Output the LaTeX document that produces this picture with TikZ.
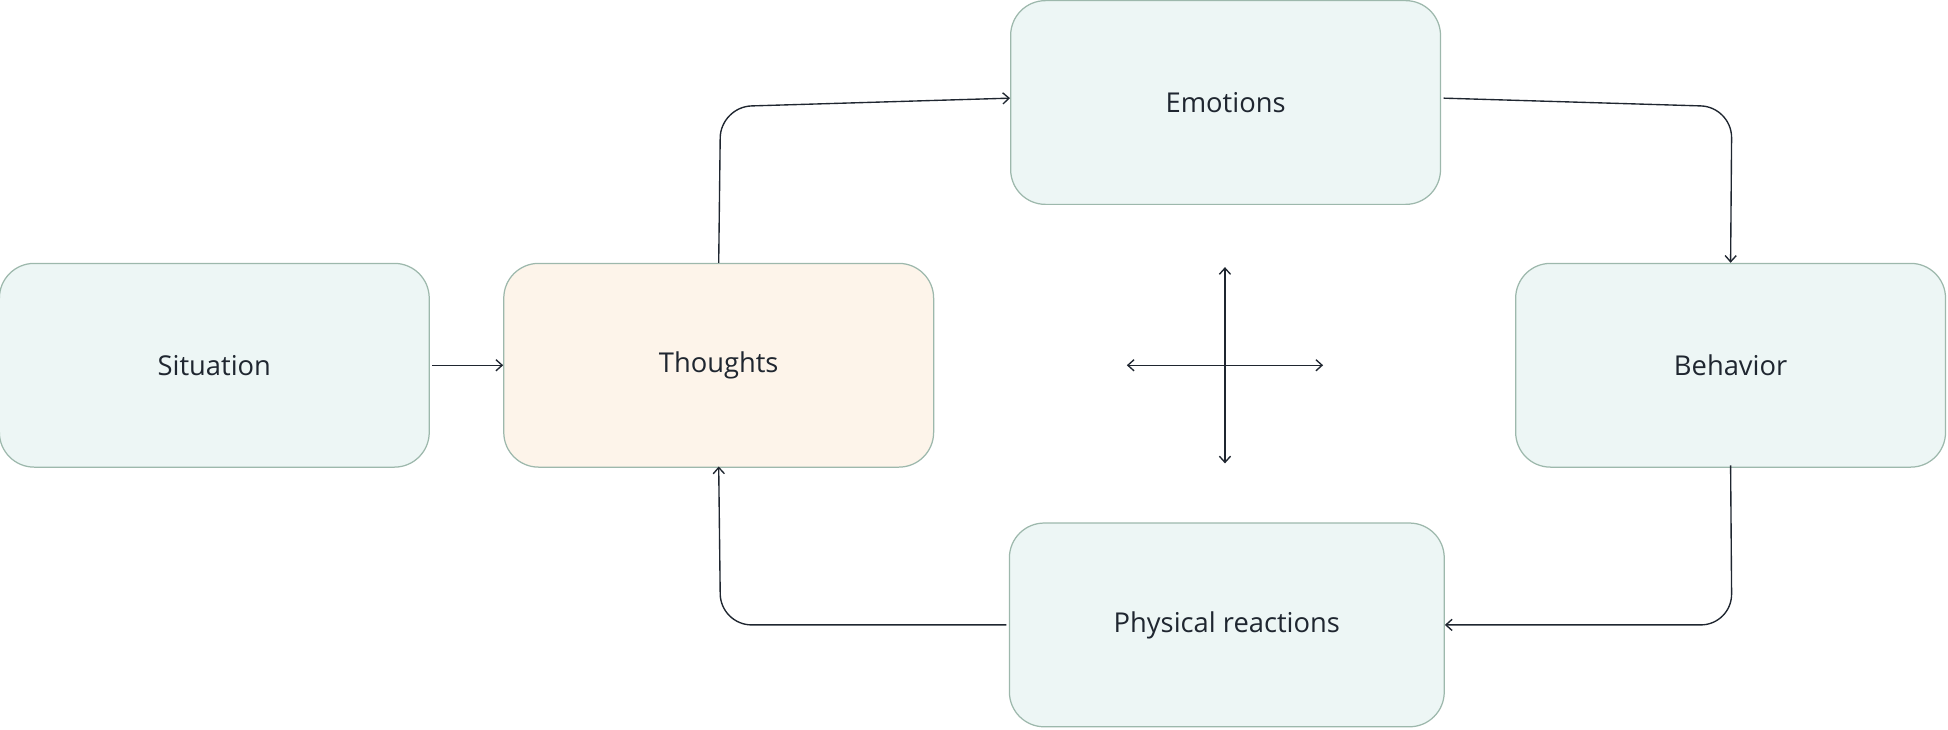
\documentclass[tikz,border=0pt]{standalone}
\usepackage{fontspec}
\setmainfont{Open Sans}
\usetikzlibrary{arrows.meta}
\definecolor{bfill}{HTML}{EDF6F5}
\definecolor{tfill}{HTML}{FDF4EA}
\definecolor{bdraw}{HTML}{9DB8AC}
\definecolor{ink}{HTML}{1F2630}
\begin{document}
\begin{tikzpicture}[x=1pt,y=-1pt,
 box/.style={draw=bdraw,fill=bfill,line width=1pt,rounded corners=28pt,minimum width=346pt,minimum height=164pt,font=\fontsize{22}{26}\selectfont,text=ink},
 arr/.style={draw=ink,line width=1.1pt,-{Straight Barb[length=5pt,width=9pt]},rounded corners=25pt}]
\useasboundingbox (0,0) rectangle (1568,587);
\node[box] (sit) at (172.5,294) {Situation};
\node[box,fill=tfill] (tho) at (578.5,294) {Thoughts};
\node[box] (emo) at (986.5,82.5) {Emotions};
\node[box] (beh) at (1393,294) {Behavior};
\node[box,minimum width=350pt] (phy) at (987.5,503) {Physical reactions};
\draw[arr] ([xshift=2pt]sit.east) -- (tho.west);
\draw[arr] (tho.north) -- (580,86) -- ([yshift=3.5pt]emo.west);
\draw[arr] ([yshift=3.5pt,xshift=2pt]emo.east) -- (1394,86) -- (beh.north);
\draw[arr] ([yshift=2pt]beh.south) -- (1394,503) -- (phy.east);
\draw[arr] ([xshift=-2pt]phy.west) -- (580,503) -- ([yshift=1pt]tho.south);
\coordinate (cl) at (907,294); \coordinate (cr) at (1065,294);
\coordinate (ct) at (986,215); \coordinate (cb) at (986,373);
\draw[arr,{Straight Barb[length=5pt,width=9pt]}-{Straight Barb[length=5pt,width=9pt]}] (cl) -- (cr);
\draw[arr,{Straight Barb[length=5pt,width=9pt]}-{Straight Barb[length=5pt,width=9pt]}] (ct) -- (cb);
\end{tikzpicture}
\end{document}
